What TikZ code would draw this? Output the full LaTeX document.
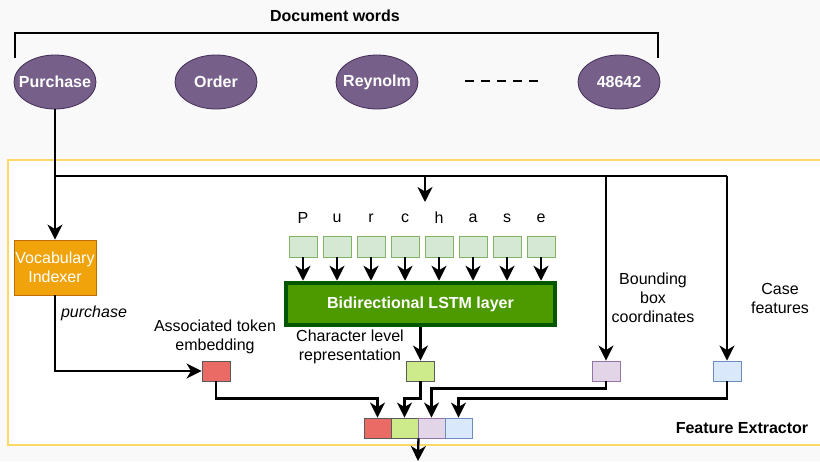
\documentclass[tikz,border=0pt]{standalone}
\usepackage{fontspec}
\setmainfont{Liberation Sans}
\usetikzlibrary{arrows.meta,shapes.geometric,calc}

\definecolor{bgcol}{HTML}{F9F9F9}
\definecolor{fecol}{HTML}{FFD966}
\definecolor{wordfill}{HTML}{76608A}
\definecolor{worddraw}{HTML}{432D57}
\definecolor{vocfill}{HTML}{F0A30A}
\definecolor{vocdraw}{HTML}{BD7000}
\definecolor{lstmfill}{HTML}{4D9900}
\definecolor{lstmdraw}{HTML}{005700}
\definecolor{charfill}{HTML}{D5E8D4}
\definecolor{chardraw}{HTML}{82B366}
\definecolor{redfill}{HTML}{EA6B66}
\definecolor{greenfill}{HTML}{CDEB8B}
\definecolor{darkdraw}{HTML}{5A5A5A}
\definecolor{purplefill}{HTML}{E1D5E7}
\definecolor{purpledraw}{HTML}{9673A6}
\definecolor{bluefill}{HTML}{DAE8FC}
\definecolor{bluedraw}{HTML}{6C8EBF}

\tikzset{
  word/.style={ellipse, fill=wordfill, draw=worddraw, line width=0.8pt,
    minimum width=82pt, minimum height=54pt, inner sep=0pt,
    text=white, font=\fontsize{16}{19}\selectfont\bfseries},
  label/.style={align=center, inner sep=0pt, font=\fontsize{16}{19}\selectfont},
  charbox/.style={rectangle, fill=charfill, draw=chardraw, line width=0.8pt,
    minimum width=28pt, minimum height=21pt, inner sep=0pt},
  featbox/.style={rectangle, line width=0.9pt,
    minimum width=28pt, minimum height=20pt, inner sep=0pt},
  catbox/.style={rectangle, line width=0.9pt,
    minimum width=27pt, minimum height=20pt, inner sep=0pt},
  arr/.style={line width=2.3pt, -{Stealth[length=15pt,width=15pt,inset=4.5pt]}},
  link/.style={line width=2.3pt}
}

\begin{document}
\begin{tikzpicture}[x=1pt,y=-1pt]
\useasboundingbox (0,0) rectangle (820,461);
\fill[bgcol] (0,0) rectangle (820,461);

% feature extractor frame
\draw[fecol, line width=2.6pt, fill=white] (8,160) rectangle (840,445);
\node[label, font=\fontsize{16}{19}\selectfont\bfseries] (fe) at (742,428) {Feature Extractor};

% document words
\node[label, font=\fontsize{16}{19}\selectfont\bfseries] (title) at (335,16) {Document words};
\node[word] (w1) at (55,82) {\makebox[0pt]{Purchase}};
\node[word] (w2) at (216,82) {\makebox[0pt]{Order}};
\node[word] (w3) at (377,82) {\makebox[0pt]{Reynolm}};
\node[word] (w4) at (619,82) {\makebox[0pt]{48642}};
\draw[line width=2.5pt, dash pattern=on 9pt off 7pt] (465,81) -- (538,81);
\draw[line width=2.5pt] (15,58) -- (15,33) -- (658,33) -- (658,58);

% vocabulary indexer
\node[rectangle, fill=vocfill, draw=vocdraw, line width=0.9pt,
  minimum width=82pt, minimum height=55pt, inner sep=0pt, align=center,
  text=white, font=\fontsize{16}{19}\selectfont] (voc) at (55,267.5) {Vocabulary\\Indexer};
\node[label, font=\fontsize{16}{19}\selectfont\itshape] (purch) at (94,313) {purchase};

% character boxes
\foreach \ch [count=\i from 0] in {P,u,r,c,h,a,s,e} {
  \node[charbox] (c\i) at (303+34*\i,246.5) {};
  \node[label] (l\i) at (303+34*\i,218) {\ch};
}

% LSTM
\node[rectangle, fill=lstmfill, draw=lstmdraw, line width=4.5pt,
  minimum width=269pt, minimum height=42pt, inner sep=0pt,
  text=white, font=\fontsize{16}{19}\selectfont\bfseries] (lstm) at (420.5,304) {Bidirectional LSTM layer};

\foreach \i in {0,...,7} {
  \draw[arr] (c\i.south) -- (c\i.south |- lstm.north);
}

% feature boxes
\node[featbox, fill=redfill, draw=darkdraw] (rfeat) at (216,371) {};
\node[featbox, fill=greenfill, draw=darkdraw] (gfeat) at (420.5,371) {};
\node[featbox, fill=purplefill, draw=purpledraw] (pfeat) at (606,371) {};
\node[featbox, fill=bluefill, draw=bluedraw] (bfeat) at (727,371) {};

\node[label] (assoc) at (215,336.5) {Associated token\\embedding};
\node[label] (charrep) at (350,346.5) {Character level\\representation};
\node[label] (bbox) at (653,298) {Bounding\\box\\coordinates};
\node[label] (case) at (780,298.5) {Case\\features};

% concatenated vector
\node[catbox, fill=redfill, draw=darkdraw] (cred) at (377.5,428) {};
\node[catbox, fill=greenfill, draw=darkdraw] (cgreen) at (404.5,428) {};
\node[catbox, fill=purplefill, draw=purpledraw] (cpurple) at (431.5,428) {};
\node[catbox, fill=bluefill, draw=bluedraw] (cblue) at (458.5,428) {};

% connectors
\coordinate (j) at (55,176);
\coordinate (chartop) at (425,202);
\coordinate (out) at (418,461);
\draw[arr] (w1.south) -- (voc.north);
\draw[link] (j) -- (j -| bfeat);
\draw[arr] (j -| bfeat) -- (bfeat.north);
\draw[arr] (j -| pfeat) -- (pfeat.north);
\draw[arr] (j -| chartop) -- (chartop);
\draw[arr] (voc.south) |- (rfeat.west);
\draw[arr] (lstm.south -| gfeat) -- (gfeat.north);
\draw[arr] (rfeat.south) -- ++(0,17) -| (cred.north);
\draw[arr] (gfeat.south) -- ++(0,17) -| (cgreen.north);
\draw[arr] (pfeat.south) -- ++(0,7) -| (cpurple.north);
\draw[arr] (bfeat.south) -- ++(0,17) -| (cblue.north);
\draw[arr] (cgreen.south east) -- (out);
\end{tikzpicture}
\end{document}
